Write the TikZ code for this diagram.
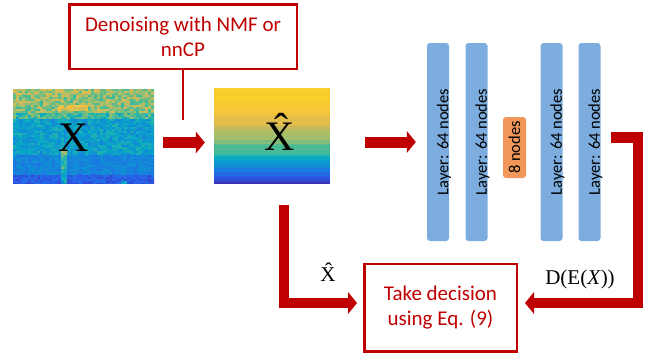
\documentclass[tikz,border=0pt]{standalone}
\usepackage{fontspec}
\setmainfont{Carlito}
\newfontfamily\tnr{Liberation Serif}
\usetikzlibrary{
    arrows.meta,
    calc
}
\definecolor{darkred}{RGB}{192,0,0}
\definecolor{layerblue}{RGB}{124,173,222}
\definecolor{codeorange}{RGB}{241,151,89}
% parula-like map
\definecolor{pa0}{RGB}{62,38,168}
\definecolor{pa1}{RGB}{40,95,235}
\definecolor{pa2}{RGB}{20,133,218}
\definecolor{pa3}{RGB}{6,167,198}
\definecolor{pa4}{RGB}{56,185,158}
\definecolor{pa5}{RGB}{146,191,115}
\definecolor{pa6}{RGB}{217,186,86}
\definecolor{pa7}{RGB}{245,196,58}
\definecolor{pa8}{RGB}{250,210,40}
\newcommand\speccell[5]{%
    \pgfmathsetmacro\cellv{max(0, min(7.99, #5))}%
    \pgfmathtruncatemacro\cellk{floor(\cellv)}%
    \pgfmathtruncatemacro\cellf{round(100*(\cellv - \cellk))}%
    \pgfmathtruncatemacro\cellkk{\cellk + 1}%
    \fill [pa\cellkk!\cellf!pa\cellk] (#1, #2) rectangle ++(#3, #4);%
}
\tikzset {
    red box/.style = {
        draw = darkred, line width = 2.5pt, text = darkred,
        align = center, inner sep = 0pt,
        font = \fontsize{21}{25}\selectfont
    },
    red line/.style = {draw = darkred, line width = 2.5pt},
    big arrow/.style = {
        draw = darkred, line width = 11pt, line join = miter,
        arrows = {-Triangle[length = 9pt 0 0, width = 22pt 0 0, line width = 0pt 0 0]}
    },
    img/.style = {inner sep = 0pt},
    layer/.style = {
        fill = layerblue, rounded corners = 3pt, inner sep = 0pt,
        minimum width = 22pt, minimum height = 198pt
    },
    layer text/.style = {rotate = 90, inner sep = 0pt, font = \fontsize{16.5}{16.5}\selectfont},
    code/.style = {
        fill = codeorange, rounded corners = 3pt, inner sep = 0pt,
        minimum width = 23pt, minimum height = 61pt
    },
    big serif/.style = {inner sep = 0pt, font = \tnr\fontsize{42}{42}\selectfont},
    serif label/.style = {inner sep = 0pt, font = \tnr\fontsize{21}{21}\selectfont}
}

\begin{document}
\begin{tikzpicture}[x = 1pt, y = -1pt]
    \useasboundingbox (0, 0) rectangle (648, 354);
    % noisy input
    \begin{scope}
        \clip (13, 89) rectangle (154, 183);
        \pgfmathsetseed{7}
        \foreach \j in {0, ..., 47} {
            \foreach \i in {0, ..., 47} {
                \pgfmathsetmacro\specval{(\j<3)*5.3 + (\j>2)*(\j<12)*5.0 + (\j>11)*(\j<15)*4.0 + (\j>14)*(\j<33)*2.8 + (\j>32)*(\j<43)*2.0 + (\j>42)*1.0 + ((\j<15)*1.1 + (\j>14)*(\j<33)*0.8 + (\j>32)*0.45)*(2*rnd - 1) + (\j>7)*(\j<11)*(\i>14)*(\i<25)*(0.6 + 1.2*rnd) + (\i>15)*(\i<18)*(\j>29)*(1 + 1.4*rnd) + (\i>35)*(\i<38)*(\j>45)*2}
                \speccell{13 + 3*\i}{89 + 2*\j}{3.2}{2.2}{\specval}
            }
        }
    \end{scope}
    % denoised
    \begin{scope}
        \clip (214, 88) rectangle (330, 183);
        \foreach \j in {0, ..., 47} {
            \pgfmathsetmacro\hatval{7.9 - 2.5*\j/47 - 5.3*(\j/47)^2 + 0.35*(2*rnd - 1)}
            \speccell{214}{88 + 2*\j}{116}{2.2}{\hatval}
        }
    \end{scope}

    \node [img, minimum width = 141pt, minimum height = 94pt] (xin) at (83.5, 136) {};
    \node [img, minimum width = 116pt, minimum height = 95pt] (xhat) at (272, 135.5) {};
    \node [big serif] (xlab) at (74, 137.5) {X};
    \node [big serif] (xhatlab) at (280, 132) {\^{X}};

    \node [red box, minimum width = 227.5pt, minimum height = 64.5pt] (den) at (183, 36.5)
        {Denoising with NMF or\\nnCP};
    \coordinate (tap) at (183, 120);
    \draw [red line] (den.south) -- (tap);

    \foreach \n/\x in {1/438, 2/476.5, 3/551.5, 4/589.5} {
        \node [layer] (l\n) at (\x, 142) {};
        \node [layer text, yshift = -6pt] (t\n) at (l\n) {Layer: 64 nodes};
    }
    \node [code] (mid) at (514.5, 147.5) {};
    \node [layer text] (midtext) at (mid) {8 nodes};

    \node [red box, minimum width = 152.5pt, minimum height = 87.5pt] (dec) at (440.5, 307.5)
        {Take decision\\using Eq. (9)};

    \draw [big arrow] ([shift = {(9, 6.5)}] xin.east) -- ([shift = {(-9, 7)}] xhat.west);
    \draw [big arrow] ($(xhat.east |- l1.west) + (35, 0)$) -- ($(l1.west) + (-11, 0)$);

    \coordinate (rout) at ($(l4.east) + (10, -4.5)$);
    \coordinate (rcorner) at (638, 303);
    \coordinate (rin) at ($(dec.east) + (7, -4.5)$);
    \draw [big arrow, line width = 10.5pt] (rout) -| (rcorner) -- (rin);

    \coordinate (lout) at ($(xhat.south) + (12, 22)$);
    \coordinate (lin) at ($(dec.west) + (-6, -4.5)$);
    \draw [big arrow, line width = 10.5pt] (lout) |- (lin);

    \node [serif label] (xhatsmall) at (328, 272) {\^{X}};
    \node [serif label] (dexlab) at (580, 279.5) {D(E(\textit{X}))};
\end{tikzpicture}
\end{document}
